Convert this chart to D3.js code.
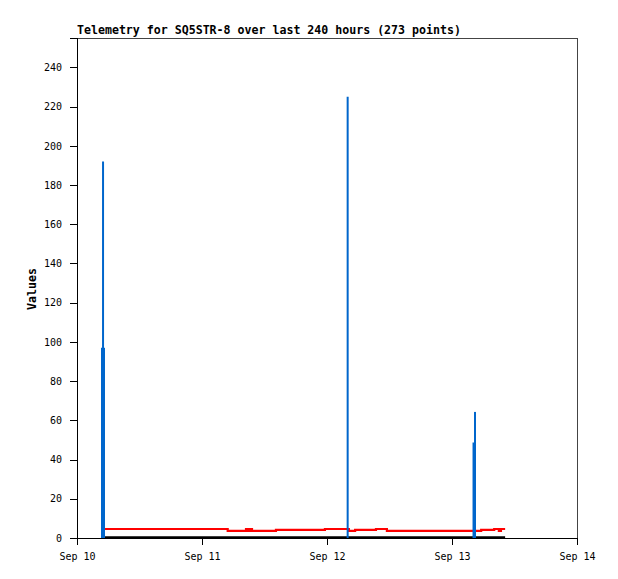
<!DOCTYPE html>
<html>
<head>
<meta charset="utf-8">
<script src="https://cdn.jsdelivr.net/npm/d3@7"></script>
<style>
  html, body { margin: 0; padding: 0; background: #fff; }
  svg { display: block; }
  text { font-family: "DejaVu Sans Mono", "Liberation Mono", monospace; }
</style>
</head>
<body>
<svg id="chart" width="618" height="579"></svg>
<script>
// ---- data ----
const titleText = "Telemetry for SQ5STR-8 over last 240 hours (273 points)";
const yLabel = "Values";
const xDomain = ["2023-09-10T00:00Z", "2023-09-14T00:00Z"];
const yDomain = [0, 255];
const yTicks = [0, 20, 40, 60, 80, 100, 120, 140, 160, 180, 200, 220, 240];

// blue impulses
const blueTimes = ["2023-09-10T04:48Z", "2023-09-10T05:00Z", "2023-09-10T05:11Z",
                   "2023-09-12T03:58Z",
                   "2023-09-13T04:08Z", "2023-09-13T04:25Z"];
const blueValues = [97, 192, 97, 225, 48.7, 64.3];

// red step series
const redTimes = ["2023-09-10T05:00Z", "2023-09-11T04:56Z", "2023-09-11T08:27Z", "2023-09-11T08:50Z",
                  "2023-09-11T09:12Z", "2023-09-11T09:36Z", "2023-09-11T14:12Z", "2023-09-11T23:36Z",
                  "2023-09-12T04:12Z", "2023-09-12T05:24Z", "2023-09-12T09:24Z", "2023-09-12T11:30Z",
                  "2023-09-13T05:36Z", "2023-09-13T08:06Z", "2023-09-13T09:00Z", "2023-09-13T09:24Z",
                  "2023-09-13T10:12Z"];
const redValues = [4.6, 3.6, 4.6, 3.6,
                   4.6, 3.6, 4.1, 4.6,
                   3.6, 4.1, 4.6, 3.6,
                   4.1, 4.6, 3.6, 4.6,
                   4.6];

// black series (zero)
const blackTimes = ["2023-09-10T05:00Z", "2023-09-13T10:12Z"];
const blackValues = [0, 0];

// ---- drawing ----
const svg = d3.select("#chart");
const margin = {left: 77, top: 38, right: 41, bottom: 41};
const W = 618, H = 579;
const x = d3.scaleUtc().domain(xDomain.map(d => new Date(d))).range([margin.left, W - margin.right]);
const y = d3.scaleLinear().domain(yDomain).range([H - margin.bottom, margin.top]);

// frame (top & right gray)
svg.append("path")
  .attr("d", `M${margin.left},${margin.top}H${W - margin.right}V${H - margin.bottom}`)
  .attr("fill", "none").attr("stroke", "#444").attr("stroke-width", 1)
  .attr("shape-rendering", "crispEdges");

// axes
const xAxis = d3.axisBottom(x).ticks(d3.utcDay.every(1)).tickFormat(d3.utcFormat("%b %d")).tickSizeOuter(0).tickSize(7).tickPadding(8);
const gx = svg.append("g").attr("transform", `translate(0,${H - margin.bottom})`).call(xAxis);
const yAxis = d3.axisLeft(y).tickValues(yTicks).tickSizeOuter(0).tickSize(7).tickPadding(8);
const gy = svg.append("g").attr("transform", `translate(${margin.left},0)`).call(yAxis);
[gx, gy].forEach(g => {
  g.selectAll("path, line").attr("stroke", "#000").attr("shape-rendering", "crispEdges");
  g.selectAll("text").attr("font-size", 10).attr("fill", "#000")
    .attr("font-family", "'DejaVu Sans Mono', monospace");
});

// black zero line
const blackData = blackTimes.map((t, i) => ({t: new Date(t), v: blackValues[i]}));
svg.append("path").datum(blackData)
  .attr("d", d3.line().x(d => x(d.t)).y(d => y(d.v) - 0.5))
  .attr("fill", "none").attr("stroke", "#000").attr("stroke-width", 2.5);

// red step line
const redData = redTimes.map((t, i) => ({t: new Date(t), v: redValues[i]}));
svg.append("path").datum(redData)
  .attr("d", d3.line().curve(d3.curveStepAfter).x(d => x(d.t)).y(d => y(d.v)))
  .attr("fill", "none").attr("stroke", "#ff0000").attr("stroke-width", 2.2);

// blue impulses
const blueData = blueTimes.map((t, i) => ({t: new Date(t), v: blueValues[i]}));
svg.append("g").selectAll("line").data(blueData).join("line")
  .attr("x1", d => x(d.t)).attr("x2", d => x(d.t))
  .attr("y1", y(0)).attr("y2", d => y(d.v))
  .attr("stroke", "#0066cc").attr("stroke-width", 2);

// title
svg.append("text").attr("x", margin.left).attr("y", 34)
  .attr("font-size", 11.6).attr("font-weight", "bold").attr("fill", "#000")
  .text(titleText);

// y label
svg.append("text").attr("transform", `translate(36,289) rotate(-90)`)
  .attr("text-anchor", "middle")
  .attr("font-size", 11.6).attr("font-weight", "bold").attr("fill", "#000")
  .text(yLabel);
</script>
</body>
</html>
